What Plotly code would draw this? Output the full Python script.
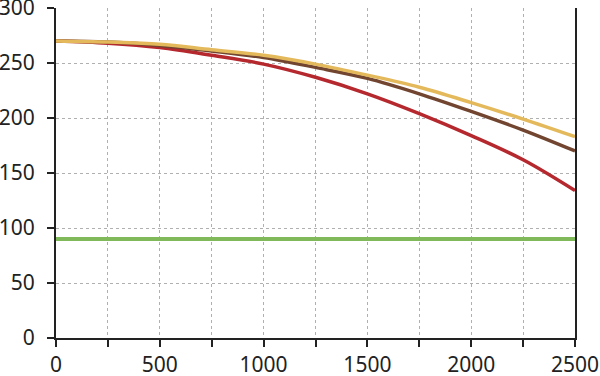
import plotly.graph_objects as go

x_vals = [0, 250, 500, 750, 1000, 1250, 1500, 1750, 2000, 2250, 2500]
red = [270, 268, 264, 257, 249, 237, 222, 204, 184, 162, 134]
brown = [270, 269, 266, 261, 255, 246, 236, 222, 206, 189, 170]
yellow = [270, 269, 267, 262, 257, 249, 239, 228, 214, 199, 183]
green = [90, 90, 90, 90, 90, 90, 90, 90, 90, 90, 90]

x_ticks = [0, 250, 500, 750, 1000, 1250, 1500, 1750, 2000, 2250, 2500]
x_ticktext = ["0", "", "500", "", "1000", "", "1500", "", "2000", "", "2500"]
y_ticks = [0, 50, 100, 150, 200, 250, 300]

fig = go.Figure()
fig.add_trace(go.Scatter(x=x_vals, y=green, mode="lines", line=dict(color="#7fb95a", width=4), line_shape="spline"))
fig.add_trace(go.Scatter(x=x_vals, y=red, mode="lines", line=dict(color="#b5282e", width=3.5), line_shape="spline"))
fig.add_trace(go.Scatter(x=x_vals, y=brown, mode="lines", line=dict(color="#714530", width=3.5), line_shape="spline"))
fig.add_trace(go.Scatter(x=x_vals, y=yellow, mode="lines", line=dict(color="#e4b95b", width=3.5), line_shape="spline"))

fig.update_layout(
    width=600, height=376,
    margin=dict(l=56, r=25, t=8, b=38, autoexpand=False),
    paper_bgcolor="white", plot_bgcolor="white",
    showlegend=False,
    font=dict(family="Noto Sans", size=21, color="#222222"),
)
fig.update_xaxes(
    range=[0, 2500], tickvals=x_ticks, ticktext=x_ticktext,
    showgrid=True, gridcolor="#b0b0b0", griddash="3px,3px", gridwidth=1,
    showline=True, linecolor="#222222", linewidth=2,
    ticks="outside", ticklen=7, tickwidth=2, tickcolor="#222222",
    zeroline=False, automargin=False, ticklabelstandoff=0,
    ticklabeloverflow="allow",
)
fig.update_yaxes(
    range=[0, 300], tickvals=y_ticks,
    showgrid=True, gridcolor="#b0b0b0", griddash="3px,3px", gridwidth=1,
    showline=True, linecolor="#222222", linewidth=2, mirror=True,
    ticks="outside", ticklen=7, tickwidth=2, tickcolor="#222222",
    zeroline=False, automargin=False, ticklabelstandoff=8,
    ticklabeloverflow="allow",
)
fig.write_html(
    "out.html",
    config={"displayModeBar": False},
    post_script="document.body.style.margin='0';document.body.style.overflow='hidden';",
)
